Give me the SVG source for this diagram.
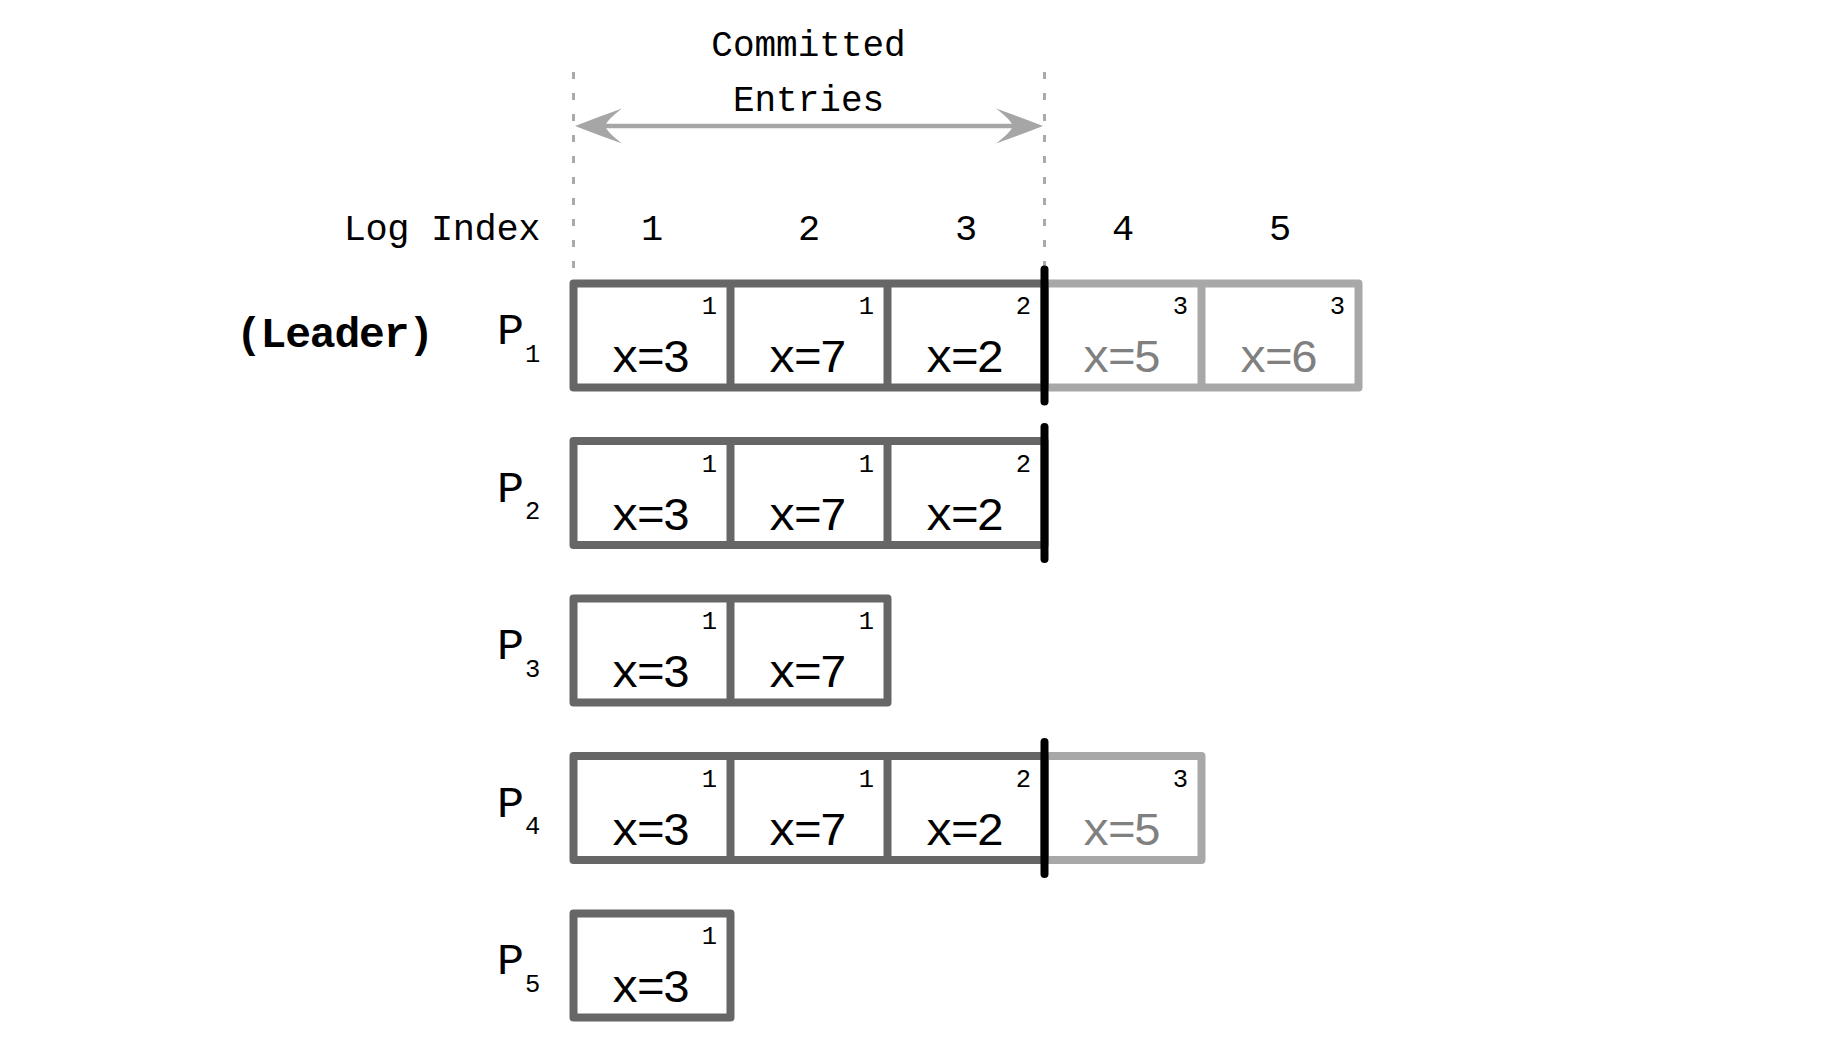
<svg xmlns="http://www.w3.org/2000/svg" width="1836" height="1040" viewBox="0 0 1836 1040">
<style>
.t{font-family:"Liberation Mono","DejaVu Sans Mono",monospace;fill:#000}
.dk{fill:#fff;stroke:#666;stroke-width:8;stroke-linejoin:round}
.lt{fill:#fff;stroke:#a8a8a8;stroke-width:8;stroke-linejoin:round}
.dvd{stroke:#666;stroke-width:8}
.dvl{stroke:#a8a8a8;stroke-width:8}
.bar{stroke:#000;stroke-width:8;stroke-linecap:round}
.val{font-size:47px;letter-spacing:-2.6px;text-anchor:middle}
.term{font-size:25.5px;text-anchor:end}
.gv{fill:#808080}
.hdr{font-size:36px;text-anchor:middle}
.idx{font-size:37px;text-anchor:middle}
.pl{font-size:45px}
.sub{font-size:25.5px}
.dash{stroke:#aaa;stroke-width:3;stroke-dasharray:7 14;fill:none}
</style>
<rect width="1836" height="1040" fill="#fff"/>

<g id="header">
<text class="t hdr" x="808.5" y="56">Committed</text>
<text class="t hdr" x="808.5" y="111">Entries</text>
<text class="t idx" x="540" y="240" style="text-anchor:end;letter-spacing:-0.4px">Log Index</text>
<text class="t idx" x="652" y="240">1</text>
<text class="t idx" x="809" y="240">2</text>
<text class="t idx" x="966" y="240">3</text>
<text class="t idx" x="1123" y="240">4</text>
<text class="t idx" x="1280" y="240">5</text>
<text class="t" x="236" y="347" style="font-size:43px;font-weight:bold;letter-spacing:-1.2px">(Leader)</text>
</g>

<g id="connectors">
<line class="dash" x1="573.5" y1="72" x2="573.5" y2="270"/>
<line class="dash" x1="1044.5" y1="72" x2="1044.5" y2="270"/>
<line x1="590" y1="126" x2="1028" y2="126" stroke="#a6a6a6" stroke-width="4.5"/>
<path d="M1043,126 Q1020,117 996,108.5 Q1011,120 1013,126 Q1011,132 996,143.5 Q1020,135 1043,126 Z" fill="#a6a6a6"/>
<path d="M575,126 Q598,117 622,108.5 Q607,120 605,126 Q607,132 622,143.5 Q598,135 575,126 Z" fill="#a6a6a6"/>
</g>

<g id="P1">
<text class="t pl" x="497" y="344">P</text><text class="t sub" x="525" y="361.5">1</text>
<rect class="lt" x="1044.5" y="283.5" width="314" height="104"/>
<line class="dvl" x1="1201.5" y1="283.5" x2="1201.5" y2="387.5"/>
<rect class="dk" x="573.5" y="283.5" width="471" height="104"/>
<line class="dvd" x1="730.5" y1="283.5" x2="730.5" y2="387.5"/>
<line class="dvd" x1="887.5" y1="283.5" x2="887.5" y2="387.5"/>
<line class="bar" x1="1044.5" y1="269.5" x2="1044.5" y2="401.5"/>
<text class="t term" x="717" y="314">1</text>
<text class="t term" x="874" y="314">1</text>
<text class="t term" x="1031" y="314">2</text>
<text class="t term" x="1188" y="314">3</text>
<text class="t term" x="1345" y="314">3</text>
<text class="t val" x="649.5" y="372">x=3</text>
<text class="t val" x="806.5" y="372">x=7</text>
<text class="t val" x="963.5" y="372">x=2</text>
<text class="t val gv" x="1120.5" y="372">x=5</text>
<text class="t val gv" x="1277.5" y="372">x=6</text>
</g>

<g id="P2">
<text class="t pl" x="497" y="501.5">P</text><text class="t sub" x="525" y="519">2</text>
<rect class="dk" x="573.5" y="441" width="471" height="104"/>
<line class="dvd" x1="730.5" y1="441" x2="730.5" y2="545"/>
<line class="dvd" x1="887.5" y1="441" x2="887.5" y2="545"/>
<line class="bar" x1="1044.5" y1="427" x2="1044.5" y2="559"/>
<text class="t term" x="717" y="471.5">1</text>
<text class="t term" x="874" y="471.5">1</text>
<text class="t term" x="1031" y="471.5">2</text>
<text class="t val" x="649.5" y="529.5">x=3</text>
<text class="t val" x="806.5" y="529.5">x=7</text>
<text class="t val" x="963.5" y="529.5">x=2</text>
</g>

<g id="P3">
<text class="t pl" x="497" y="659">P</text><text class="t sub" x="525" y="676.5">3</text>
<rect class="dk" x="573.5" y="598.5" width="314" height="104"/>
<line class="dvd" x1="730.5" y1="598.5" x2="730.5" y2="702.5"/>
<text class="t term" x="717" y="629">1</text>
<text class="t term" x="874" y="629">1</text>
<text class="t val" x="649.5" y="687">x=3</text>
<text class="t val" x="806.5" y="687">x=7</text>
</g>

<g id="P4">
<text class="t pl" x="497" y="816.5">P</text><text class="t sub" x="525" y="834">4</text>
<rect class="lt" x="1044.5" y="756" width="157" height="104"/>
<rect class="dk" x="573.5" y="756" width="471" height="104"/>
<line class="dvd" x1="730.5" y1="756" x2="730.5" y2="860"/>
<line class="dvd" x1="887.5" y1="756" x2="887.5" y2="860"/>
<line class="bar" x1="1044.5" y1="742" x2="1044.5" y2="874"/>
<text class="t term" x="717" y="786.5">1</text>
<text class="t term" x="874" y="786.5">1</text>
<text class="t term" x="1031" y="786.5">2</text>
<text class="t term" x="1188" y="786.5">3</text>
<text class="t val" x="649.5" y="844.5">x=3</text>
<text class="t val" x="806.5" y="844.5">x=7</text>
<text class="t val" x="963.5" y="844.5">x=2</text>
<text class="t val gv" x="1120.5" y="844.5">x=5</text>
</g>

<g id="P5">
<text class="t pl" x="497" y="974">P</text><text class="t sub" x="525" y="991.5">5</text>
<rect class="dk" x="573.5" y="913.5" width="157" height="104"/>
<text class="t term" x="717" y="944">1</text>
<text class="t val" x="649.5" y="1002">x=3</text>
</g>
</svg>
